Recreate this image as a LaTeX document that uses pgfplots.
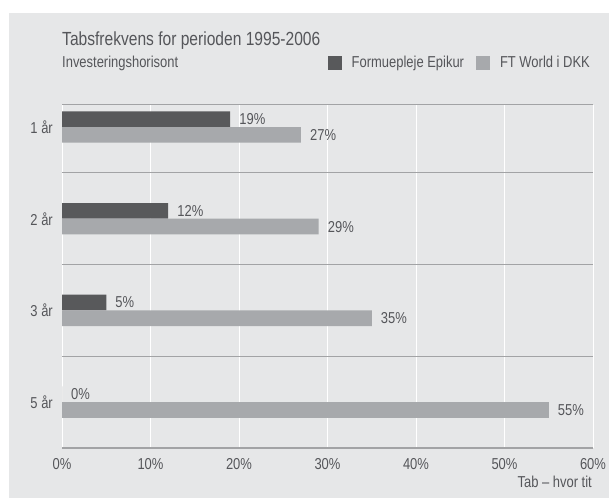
\documentclass[border=0pt]{standalone}
\usepackage{fontspec}
\setmainfont{Liberation Sans}[FakeStretch=0.82]
\usepackage{pgfplots}
\pgfplotsset{compat=1.18}
\definecolor{panel}{HTML}{E6E7E8}
\definecolor{darkbar}{HTML}{58595B}
\definecolor{lightbar}{HTML}{A7A9AC}
\definecolor{txt}{HTML}{55565A}
\definecolor{rule}{HTML}{A2A3A5}
\newcommand\bodyfont{\fontsize{15.8}{18}\selectfont}
\newcommand\titlefont{\fontsize{19}{22}\selectfont}

\begin{document}
\begin{tikzpicture}
% 1px of the reference = 1pt; axis box lower-left corner at the origin
\useasboundingbox (-62pt,-50pt) rectangle (547pt,448pt);
\fill[panel] (-53pt,-50pt) rectangle (547pt,435pt);
\begin{axis}[
  at={(0pt,0pt)}, anchor=south west,
  scale only axis, width=531pt, height=343pt,
  xbar=0pt, bar width=15.7pt,
  xmin=0, xmax=60, ymin=-0.5, ymax=3.24,
  xtick={0,10,...,60},
  xticklabels={0\%,10\%,20\%,30\%,40\%,50\%,60\%},
  ytick={0,1,2,3},
  yticklabels={5 år,3 år,2 år,1 år},
  minor ytick={0.5,1.5,2.5},
  xmajorgrids, yminorgrids,
  major grid style={white, line width=1pt},
  minor grid style={rule, line width=1pt},
  major tick length=0pt, minor tick length=0pt,
  axis line style={draw=none},
  tick label style={font=\bodyfont, text=txt, inner sep=0pt},
  xticklabel style={yshift=-10pt},
  yticklabel style={xshift=-9pt},
  point meta=x,
  nodes near coords={\pgfmathprintnumber[assume math mode=true]{\pgfplotspointmeta}\%},
  nodes near coords style={font=\bodyfont, text=txt, inner sep=0pt, xshift=9pt},
  legend columns=2,
  legend image code/.code={\fill[#1] (0pt,-7pt) rectangle (14pt,7pt);},
  legend style={at={(1,1)}, anchor=east, yshift=42pt, draw=none, fill=none,
    font=\bodyfont, text=txt, nodes={inner sep=0pt},
    /tikz/every odd column/.append style={column sep=10pt},
    /tikz/every even column/.append style={column sep=12pt}},
]
\addplot[draw=none, fill=darkbar, bar shift=7.85pt]
  coordinates {(19,3) (12,2) (5,1) (0,0)};
\addplot[draw=none, fill=lightbar, bar shift=-7.85pt]
  coordinates {(27,3) (29,2) (35,1) (55,0)};
\legend{Formuepleje Epikur, FT World i DKK}
\draw[rule, line width=1pt] (rel axis cs:0,1) -- (rel axis cs:1,1);
\draw[rule, line width=1.5pt] (rel axis cs:0,0) -- (rel axis cs:1,0);
\end{axis}
\node[anchor=base west, inner sep=0pt, font=\titlefont, text=txt] at (0pt,402pt) {Tabsfrekvens for perioden 1995-2006};
\node[anchor=base west, inner sep=0pt, font=\bodyfont, text=txt] at (0pt,380pt) {Investeringshorisont};
\node[anchor=base east, inner sep=0pt, font=\bodyfont, text=txt] at (530pt,-39pt) {Tab -- hvor tit};
\end{tikzpicture}
\end{document}
